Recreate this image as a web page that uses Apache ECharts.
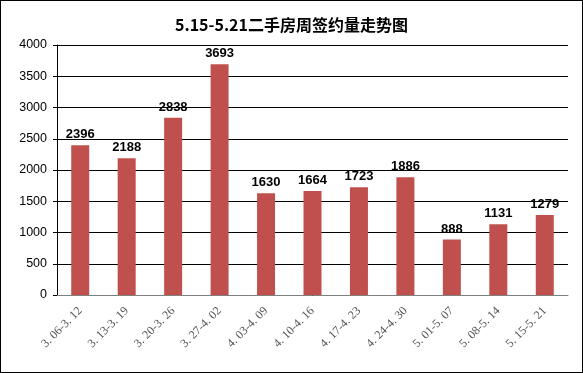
<!DOCTYPE html>
<html><head><meta charset="utf-8">
<script src="https://cdn.jsdelivr.net/npm/echarts@6/dist/echarts.min.js"></script>
<style>html,body{margin:0;padding:0;background:#fff}#c{width:583px;height:373px;box-sizing:border-box;border:1px solid #000}</style>
</head><body><div id="c"></div>
<script>
var categories = ["3. 06-3. 12","3. 13-3. 19","3. 20-3. 26","3. 27-4. 02","4. 03-4. 09","4. 10-4. 16","4. 17-4. 23","4. 24-4. 30","5. 01-5. 07","5. 08-5. 14","5. 15-5. 21"];
var values = [2396,2188,2838,3693,1630,1664,1723,1886,888,1131,1279];
var chart = echarts.init(document.getElementById('c'));
chart.setOption({
  animation:false,
  title:{text:'5.15-5.21二手房周签约量走势图',left:'center',top:11,textStyle:{fontSize:16,fontWeight:'bold',color:'#000',fontFamily:'Noto Sans CJK SC'}},
  grid:{left:56,right:14,top:44,bottom:77},
  xAxis:{type:'category',data:categories,
    axisLine:{lineStyle:{color:'#808080'}},
    axisTick:{lineStyle:{color:'#808080'},length:5},
    axisLabel:{rotate:45,color:'#555',fontSize:12,fontFamily:'Liberation Serif',margin:14}},
  yAxis:{type:'value',min:0,max:4000,interval:500,
    axisLine:{show:true,lineStyle:{color:'#000'}},
    axisTick:{show:true,inside:false,length:4,lineStyle:{color:'#000'}},
    splitLine:{lineStyle:{color:'#000'}},
    axisLabel:{color:'#000',fontSize:12.5,fontFamily:'Liberation Sans',margin:10,formatter:function(v){return String(v);}}},
  series:[{type:'bar',data:values,barWidth:18,itemStyle:{color:'#C0504D'},
    label:{show:true,position:'top',color:'#000',fontWeight:'bold',fontSize:13,fontFamily:'Liberation Sans',distance:4}}]
});
</script></body></html>
